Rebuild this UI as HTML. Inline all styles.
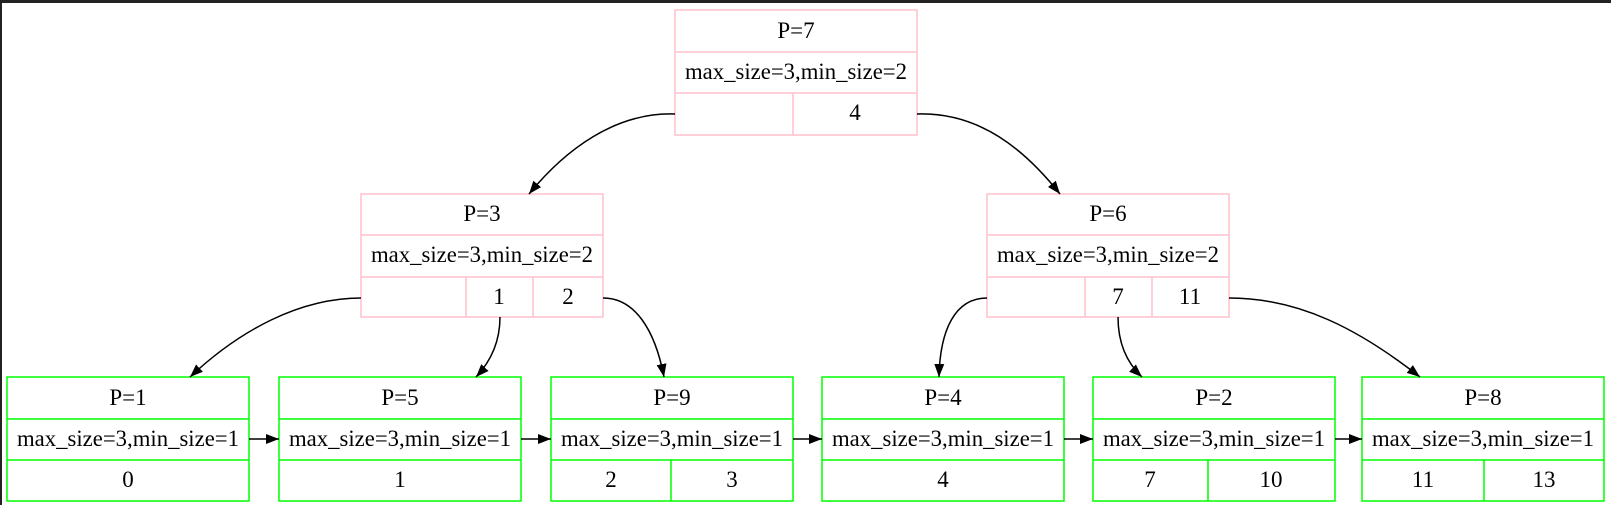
<!DOCTYPE html>
<html><head><meta charset="utf-8"><style>
html,body{margin:0;padding:0;background:#fff;}
svg{display:block;}
text{font-family:"Liberation Serif","Times New Roman",serif;font-size:23px;fill:#000;text-anchor:middle;}
</style></head><body>
<svg width="1611" height="505" viewBox="0 0 1611 505" xmlns="http://www.w3.org/2000/svg">
<defs>
<marker id="a" markerWidth="14" markerHeight="12" refX="13" refY="6" orient="auto" markerUnits="userSpaceOnUse">
<path d="M0,1 L13,6 L0,11 z" fill="#000"/>
</marker>
</defs>
<rect x="0" y="0" width="1611" height="505" fill="#fff"/>
<rect x="0" y="0" width="1611" height="3" fill="#222"/>
<rect x="0" y="0" width="2" height="505" fill="#222"/>

<g fill="none" stroke="#ffc0cb" stroke-width="1.5">
<rect x="675" y="10" width="242" height="125"/>
<line x1="675" y1="52" x2="917" y2="52"/><line x1="675" y1="93" x2="917" y2="93"/><line x1="793" y1="93" x2="793" y2="135"/>
<rect x="361" y="194" width="242" height="123"/>
<line x1="361" y1="235" x2="603" y2="235"/><line x1="361" y1="277" x2="603" y2="277"/>
<line x1="466" y1="277" x2="466" y2="317"/><line x1="533" y1="277" x2="533" y2="317"/>
<rect x="987" y="194" width="242" height="123"/>
<line x1="987" y1="235" x2="1229" y2="235"/><line x1="987" y1="277" x2="1229" y2="277"/>
<line x1="1085" y1="277" x2="1085" y2="317"/><line x1="1152" y1="277" x2="1152" y2="317"/>
</g>
<g>
<text x="796" y="38">P=7</text><text x="796" y="79" textLength="222" lengthAdjust="spacingAndGlyphs">max_size=3,min_size=2</text><text x="855" y="120">4</text>
<text x="482" y="221">P=3</text><text x="482" y="262" textLength="222" lengthAdjust="spacingAndGlyphs">max_size=3,min_size=2</text>
<text x="499" y="304">1</text><text x="568" y="304">2</text>
<text x="1108" y="221">P=6</text><text x="1108" y="262" textLength="222" lengthAdjust="spacingAndGlyphs">max_size=3,min_size=2</text>
<text x="1118" y="304">7</text><text x="1190" y="304">11</text>
</g>

<g fill="none" stroke="#00ff00" stroke-width="1.5">
<rect x="7" y="377" width="242" height="124"/><line x1="7" y1="419" x2="249" y2="419"/><line x1="7" y1="460" x2="249" y2="460"/>
<rect x="279" y="377" width="242" height="124"/><line x1="279" y1="419" x2="521" y2="419"/><line x1="279" y1="460" x2="521" y2="460"/>
<rect x="551" y="377" width="242" height="124"/><line x1="551" y1="419" x2="793" y2="419"/><line x1="551" y1="460" x2="793" y2="460"/><line x1="671" y1="460" x2="671" y2="501"/>
<rect x="822" y="377" width="242" height="124"/><line x1="822" y1="419" x2="1064" y2="419"/><line x1="822" y1="460" x2="1064" y2="460"/>
<rect x="1093" y="377" width="242" height="124"/><line x1="1093" y1="419" x2="1335" y2="419"/><line x1="1093" y1="460" x2="1335" y2="460"/><line x1="1208" y1="460" x2="1208" y2="501"/>
<rect x="1362" y="377" width="242" height="124"/><line x1="1362" y1="419" x2="1604" y2="419"/><line x1="1362" y1="460" x2="1604" y2="460"/><line x1="1484" y1="460" x2="1484" y2="501"/>
</g>
<g>
<text x="128" y="405">P=1</text><text x="128" y="446" textLength="222" lengthAdjust="spacingAndGlyphs">max_size=3,min_size=1</text><text x="128" y="487">0</text>
<text x="400" y="405">P=5</text><text x="400" y="446" textLength="222" lengthAdjust="spacingAndGlyphs">max_size=3,min_size=1</text><text x="400" y="487">1</text>
<text x="672" y="405">P=9</text><text x="672" y="446" textLength="222" lengthAdjust="spacingAndGlyphs">max_size=3,min_size=1</text><text x="611" y="487">2</text><text x="732" y="487">3</text>
<text x="943" y="405">P=4</text><text x="943" y="446" textLength="222" lengthAdjust="spacingAndGlyphs">max_size=3,min_size=1</text><text x="943" y="487">4</text>
<text x="1214" y="405">P=2</text><text x="1214" y="446" textLength="222" lengthAdjust="spacingAndGlyphs">max_size=3,min_size=1</text><text x="1150" y="487">7</text><text x="1271" y="487">10</text>
<text x="1483" y="405">P=8</text><text x="1483" y="446" textLength="222" lengthAdjust="spacingAndGlyphs">max_size=3,min_size=1</text><text x="1423" y="487">11</text><text x="1544" y="487">13</text>
</g>

<g fill="none" stroke="#000" stroke-width="1.5" marker-end="url(#a)">
<path d="M675,114 C615,112 565,150 529,194"/>
<path d="M917,114 C980,112 1025,150 1060,194"/>
<path d="M361,298 C300,298 240,330 190,377"/>
<path d="M500,317 C500,340 492,360 476,377"/>
<path d="M603,298 C635,298 655,330 664,377"/>
<path d="M987,298 C955,298 940,330 939,377"/>
<path d="M1118,317 C1118,342 1126,362 1142,377"/>
<path d="M1229,298 C1300,298 1360,330 1420,377"/>
<path d="M249,439 L279,439"/>
<path d="M521,439 L551,439"/>
<path d="M793,439 L822,439"/>
<path d="M1064,439 L1093,439"/>
<path d="M1335,439 L1362,439"/>
</g>
</svg>
</body></html>
